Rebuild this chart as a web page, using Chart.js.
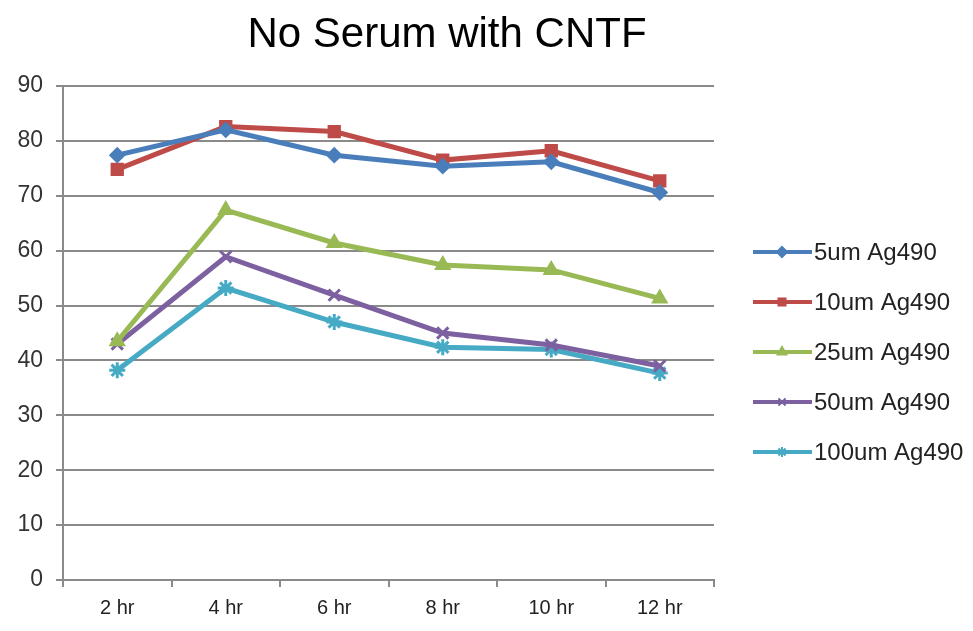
<!DOCTYPE html>
<html>
<head>
<meta charset="utf-8">
<script src="https://cdn.jsdelivr.net/npm/chart.js"></script>
<style>
  html, body { margin: 0; padding: 0; background: #fff; }
  #wrap { width: 973px; height: 631px; position: relative; }
</style>
</head>
<body>
<div id="wrap"><canvas id="grafik"></canvas></div>
<script>
const kategori = ["2 hr", "4 hr", "6 hr", "8 hr", "10 hr", "12 hr"];
const label = ["5um Ag490", "10um Ag490", "25um Ag490", "50um Ag490", "100um Ag490"];
const nilai5 = [77.4, 82.0, 77.4, 75.4, 76.2, 70.6];
const nilai10 = [74.8, 82.6, 81.7, 76.5, 78.2, 72.7];
const nilai25 = [43.5, 67.4, 61.4, 57.4, 56.5, 51.3];
const nilai50 = [43.0, 58.9, 51.9, 45.0, 42.8, 39.0];
const nilai100 = [38.2, 53.2, 47.0, 42.4, 42.0, 37.7];
const sumbuY = [0, 10, 20, 30, 40, 50, 60, 70, 80, 90];

const warna = ["#4A7EBB", "#BE4B48", "#98B954", "#7D60A0", "#46AAC5"];
const bentuk = ["rectRot", "rect", "triangle", "crossRot", "star"];
const ukuran = [7, 8, 8, 8, 8];
const tebal = [2, 2, 2, 3, 3];
const semuaNilai = [nilai5, nilai10, nilai25, nilai50, nilai100];

const FONT = "'Liberation Sans', Arial, sans-serif";

// legenda gaya Excel: garis + marker, plus judul
const legendaExcel = {
    id: "legendaExcel",
    afterDraw(chart) {
        const ctx = chart.ctx;
        ctx.save();
        chart.data.datasets.forEach((ds, i) => {
            const y = 252 + i * 50;
            ctx.strokeStyle = ds.borderColor;
            ctx.lineWidth = 4;
            ctx.beginPath();
            ctx.moveTo(753, y);
            ctx.lineTo(812, y);
            ctx.stroke();
            ctx.fillStyle = ds.borderColor;
            ctx.strokeStyle = ds.borderColor;
            ctx.lineWidth = 2;
            Chart.helpers.drawPoint(ctx, {
                pointStyle: ds.pointStyle,
                radius: 5,
                borderWidth: 2,
                rotation: 0
            }, 782, y);
            ctx.fillStyle = "#222";
            ctx.font = "24px " + FONT;
            ctx.textBaseline = "middle";
            ctx.textAlign = "left";
            ctx.fillText(ds.label, 814, y + 1);
        });
        ctx.fillStyle = "#000";
        ctx.font = "42px " + FONT;
        ctx.textAlign = "center";
        ctx.textBaseline = "alphabetic";
        ctx.fillText("No Serum with CNTF", 447, 47);
        ctx.restore();
    }
};

const ctx = document.getElementById("grafik").getContext("2d");
new Chart(ctx, {
    type: "line",
    data: {
        labels: kategori,
        datasets: semuaNilai.map((d, i) => ({
            label: label[i],
            data: d,
            borderColor: warna[i],
            backgroundColor: warna[i],
            pointStyle: bentuk[i],
            pointRadius: ukuran[i],
            pointBorderWidth: tebal[i],
            borderWidth: 5,
            fill: false,
            tension: 0
        }))
    },
    options: {
        responsive: true,
        maintainAspectRatio: false,
        animation: false,
        layout: { padding: { top: 86, right: 259, bottom: 0, left: 0 } },
        plugins: {
            legend: { display: false },
            title: { display: false },
            tooltip: { enabled: false }
        },
        scales: {
            x: {
                offset: true,
                grid: { offset: true, drawOnChartArea: false, drawTicks: true, tickLength: 7, color: "#8a8a8a", lineWidth: 2 },
                border: { color: "#8a8a8a", width: 2 },
                ticks: { color: "#222", font: { family: FONT, size: 20 }, padding: 9, maxRotation: 0 },
                afterFit(scale) { scale.height = 51; }
            },
            y: {
                min: 0,
                max: 90,
                afterBuildTicks(scale) { scale.ticks = sumbuY.map(v => ({ value: v })); },
                grid: { color: "#8a8a8a", lineWidth: 2, drawTicks: true, tickLength: 7 },
                border: { color: "#8a8a8a", width: 2 },
                ticks: { color: "#333", font: { family: FONT, size: 23 }, padding: 13 },
                afterFit(scale) { scale.width = 63; }
            }
        }
    },
    plugins: [legendaExcel]
});
</script>
</body>
</html>
